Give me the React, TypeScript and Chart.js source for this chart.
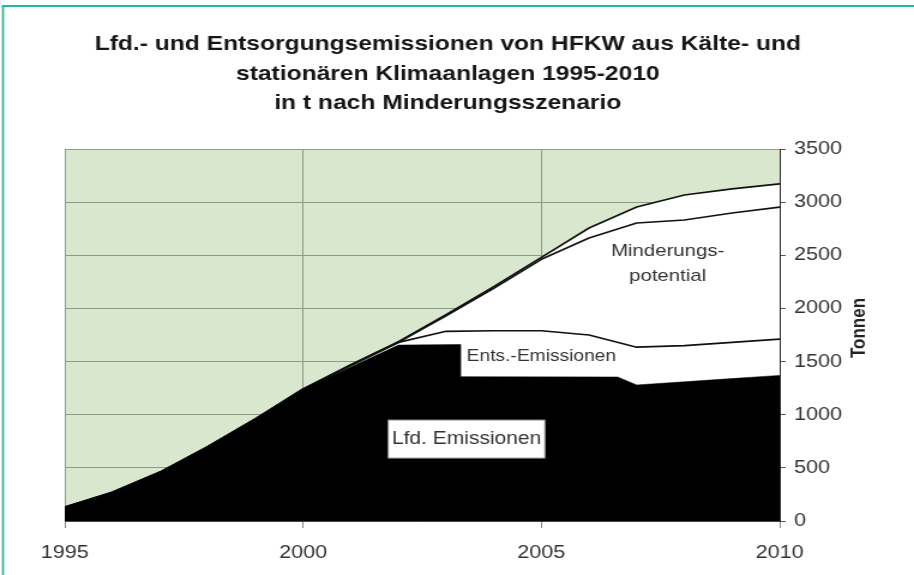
import React, { useEffect, useRef } from "react";
import { Chart, registerables } from "chart.js";

Chart.register(...registerables);

// ---------- data ----------
const TITLE_LINES = [
  "Lfd.- und Entsorgungsemissionen von HFKW aus Kälte- und",
  "stationären Klimaanlagen 1995-2010",
  "in t nach Minderungsszenario",
];
const Y_TITLE = "Tonnen";

const years = [1995, 1996, 1997, 1998, 1999, 2000, 2001, 2002, 2003, 2004, 2005, 2006, 2007, 2008, 2009, 2010];

// laufende Emissionen (black area) – has a step around 2003
const lfdYears = [1995, 1996, 1997, 1998, 1999, 2000, 2001, 2002, 2003.3, 2003.3, 2006.6, 2007, 2008, 2009, 2010];
const lfdValues = [130, 270, 460, 700, 960, 1240, 1450, 1655, 1660, 1358, 1355, 1280, 1310, 1340, 1370];

// cumulative top of Entsorgungsemissionen
const entsValues = [130, 270, 460, 700, 960, 1240, 1462, 1680, 1785, 1790, 1790, 1750, 1635, 1650, 1680, 1712];
// cumulative top after reduction scenario (lower of the two upper lines)
const mindValues = [130, 270, 460, 700, 960, 1240, 1465, 1682, 1930, 2190, 2462, 2663, 2804, 2832, 2898, 2954];
// total (upper line)
const totalValues = [130, 270, 460, 700, 960, 1242, 1470, 1686, 1940, 2205, 2480, 2757, 2954, 3067, 3124, 3171];

const areaLabels = [
  { lines: ["Minderungs-", "potential"], x: 2007.65, y: [2540, 2305], size: 17, box: false },
  { lines: ["Ents.-Emissionen"], x: 2005.0, y: [1543], size: 16, box: false },
  { lines: ["Lfd. Emissionen"], x: 2003.43, y: [771], size: 17.5, box: true },
];

// ---------- layout / style ----------
const OUT_W = 914;
const OUT_H = 575;
const SX = 1.2; // horizontal stretch of the original picture
const W = Math.round(OUT_W / SX);
const H = OUT_H;
const FONT = "'Liberation Sans', Arial, Helvetica, sans-serif";
const GRID = "#8e9b88";
const PLOT_BG = "#d9e7cf";
const TEAL = "#22b89f";

const decorPlugin = {
  id: "decor",
  beforeDraw(chart: any) {
    const { ctx, chartArea } = chart;
    ctx.save();
    ctx.fillStyle = "#ffffff";
    ctx.fillRect(0, 0, chart.width, chart.height);
    ctx.fillStyle = PLOT_BG;
    ctx.fillRect(chartArea.left, chartArea.top, chartArea.right - chartArea.left, chartArea.bottom - chartArea.top);
    ctx.restore();
  },
  afterDraw(chart: any) {
    const { ctx, scales } = chart;
    const xs = scales.x;
    const ys = scales.y;
    ctx.save();
    // title
    ctx.fillStyle = "#161616";
    ctx.font = `bold 20.5px ${FONT}`;
    ctx.textAlign = "center";
    ctx.textBaseline = "alphabetic";
    const tcx = 448 / SX;
    const baselines = [49.5, 79.5, 108.5];
    TITLE_LINES.forEach((t, i) => ctx.fillText(t, tcx, baselines[i]));

    // area labels
    areaLabels.forEach((lab) => {
      ctx.font = `${lab.size}px ${FONT}`;
      const px = xs.getPixelForValue(lab.x);
      if (lab.box) {
        const py = ys.getPixelForValue(lab.y[0]);
        const w = ctx.measureText(lab.lines[0]).width + 6;
        const h = 38;
        ctx.fillStyle = "#ffffff";
        ctx.fillRect(px - w / 2, py - h / 2, w, h);
        ctx.strokeStyle = "#9a9a9a";
        ctx.lineWidth = 1;
        ctx.strokeRect(px - w / 2, py - h / 2, w, h);
      }
      ctx.fillStyle = "#333333";
      ctx.textAlign = "center";
      ctx.textBaseline = "middle";
      lab.lines.forEach((l, i) => ctx.fillText(l, px, ys.getPixelForValue(lab.y[i])));
    });

    // axis title (rotated, reading bottom to top)
    ctx.translate(860 / SX, (ys.top + ys.bottom) / 2 - 7);
    ctx.rotate(-Math.PI / 2);
    ctx.font = `bold 17px ${FONT}`;
    ctx.fillStyle = "#222222";
    ctx.textAlign = "center";
    ctx.textBaseline = "middle";
    ctx.fillText(Y_TITLE, 0, 0);
    ctx.restore();

    // teal frame
    ctx.save();
    ctx.fillStyle = TEAL;
    ctx.fillRect(2 / SX, 5, 2 / SX, H);
    ctx.fillRect(2 / SX, 5, W, 2);
    ctx.restore();
  },
};

export default function App() {
  const ref = useRef<HTMLCanvasElement | null>(null);

  useEffect(() => {
    if (!ref.current) return;
    const pts = (xsArr: number[], ysArr: number[]) => xsArr.map((x, i) => ({ x, y: ysArr[i] }));
    const lineCommon = {
      pointRadius: 0,
      tension: 0,
      borderColor: "#111111",
      borderWidth: 1.7,
      borderJoinStyle: "round" as const,
    };
    const chart = new Chart(ref.current, {
      type: "line",
      data: {
        datasets: [
          {
            label: "Lfd. Emissionen",
            data: pts(lfdYears, lfdValues),
            fill: "origin",
            backgroundColor: "#000000",
            borderColor: "#000000",
            borderWidth: 0.5,
            pointRadius: 0,
            tension: 0,
          },
          { label: "Ents.-Emissionen", data: pts(years, entsValues), fill: false, ...lineCommon },
          { label: "Minderungsszenario", data: pts(years, mindValues), fill: false, ...lineCommon },
          {
            label: "Gesamt",
            data: pts(years, totalValues),
            fill: "origin",
            backgroundColor: "#ffffff",
            ...lineCommon,
          },
        ],
      },
      options: {
        responsive: false,
        maintainAspectRatio: false,
        animation: false,
        events: [],
        layout: { padding: { left: 54, top: 149, right: 0, bottom: 0 } },
        plugins: {
          legend: { display: false },
          tooltip: { enabled: false },
          title: { display: false },
        },
        scales: {
          x: {
            type: "linear",
            position: "bottom",
            min: 1995,
            max: 2010,
            afterFit: (s: any) => {
              s.height = 54;
            },
            ticks: {
              stepSize: 5,
              callback: (v: any) => String(v),
              color: "#333333",
              font: { family: FONT, size: 18 },
              padding: 14,
              maxRotation: 0,
            },
            grid: { color: GRID, lineWidth: 1, tickLength: 7, tickColor: "#888888" },
            border: { display: true, color: "#444444", width: 1 },
          },
          y: {
            type: "linear",
            position: "right",
            min: 0,
            max: 3500,
            afterFit: (s: any) => {
              s.width = W - 650;
            },
            ticks: {
              stepSize: 500,
              callback: (v: any) => String(v),
              color: "#333333",
              font: { family: FONT, size: 18 },
              padding: 7,
            },
            grid: { color: GRID, lineWidth: 1, tickLength: 5, tickColor: "#555555" },
            border: { display: true, color: "#222222", width: 1 },
          },
        },
      },
      plugins: [decorPlugin],
    } as any);
    return () => chart.destroy();
  }, []);

  return (
    <div style={{ position: "fixed", left: 0, top: 0, width: OUT_W, height: OUT_H, background: "#fff" }}>
      <canvas ref={ref} width={W} height={H} style={{ width: OUT_W + "px", height: OUT_H + "px", display: "block" }} />
    </div>
  );
}
